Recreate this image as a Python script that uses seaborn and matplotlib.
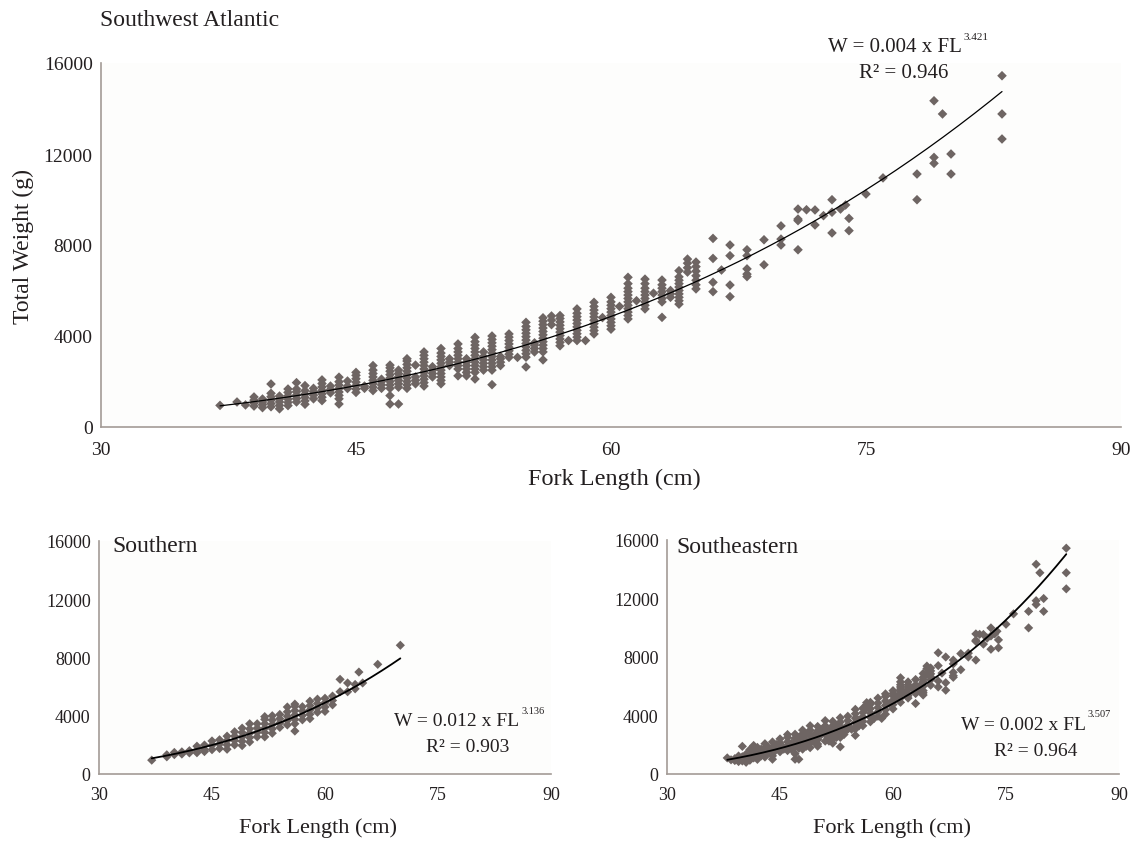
import numpy as np
import pandas as pd
import seaborn as sns
import matplotlib.pyplot as plt

# Southern region: fork length classes (cm) and weights (g)
s_fl = [37, 39, 40, 41, 42, 43, 44, 45, 46, 47, 48, 49, 50, 51, 52, 53, 54, 55,
        56, 57, 58, 59, 60, 61, 62, 63, 64, 64.5, 65, 67, 70]
s_w = [[950], [1180, 1320], [1330, 1480], [1370, 1520], [1450, 1600],
       [1460, 1610, 1910], [1540, 1690, 1990], [1670, 1970, 2270],
       [1750, 2050, 2350], [1700, 2000, 2300, 2600], [2000, 2300, 2600, 2900],
       [1950, 2250, 2550, 2850, 3150], [2200, 2500, 2800, 3100, 3450],
       [2550, 2850, 3150, 3450], [2550, 2850, 3150, 3450, 3750, 3940],
       [2800, 3100, 3400, 3700, 4000], [3200, 3500, 3800, 4090],
       [3370, 3670, 3970, 4270, 4600], [2950, 3450, 3750, 4050, 4350, 4650, 4800],
       [3720, 4020, 4320, 4620], [3800, 4100, 4400, 4700, 5000],
       [4240, 4540, 4840, 5140], [4300, 4600, 4900, 5200],
       [4750, 5050, 5350], [5650, 6500], [5650, 6250], [5850, 6150],
       [7000], [6250], [7530], [8840]]

# Southeastern region
se_fl = [38, 38.5, 39, 39.5, 40, 40.5, 41, 41.5, 42, 42.5, 43, 43.5, 44, 44.5,
         45, 45.5, 46, 46.5, 47, 47.5, 48, 48.5, 49, 49.5, 50, 50.5, 51, 51.5,
         52, 52.5, 53, 53.5, 54, 54.5, 55, 55.5, 56, 56.5, 57, 57.5, 58, 58.5,
         59, 59.5, 60, 60.5, 61, 61.5, 62, 62.5, 63, 63.5, 64, 64.5, 65, 66,
         66.5, 67, 68, 69, 70, 71, 71.5, 72, 72.5, 73, 73.5, 73.8, 74, 75, 76,
         78, 79, 79.5, 80, 83]
se_w = [[1100], [970], [920, 1050], [850, 980, 1100, 1230],
        [890, 1030, 1180, 1890], [800, 950, 1100, 1230, 1360],
        [940, 1080, 1220, 1670], [1100, 1250, 1400, 1550, 1670, 1950],
        [1000, 1150, 1300, 1820], [1240, 1400, 1550, 1700],
        [1160, 1310, 1760, 2070], [1500, 1650, 1800],
        [1010, 1240, 1390, 1840, 2190], [1690, 1800, 2020],
        [1520, 1820, 2120, 2400], [1700, 1800],
        [1600, 1900, 2200, 2500, 2700], [1700, 1850, 2000, 2100],
        [1010, 1380, 1850, 2150, 2450, 2720],
        [1010, 1750, 1900, 2050, 2200, 2350, 2500],
        [1700, 1850, 2150, 2450, 2750, 3000], [1900, 2050, 2200, 2720],
        [1800, 2100, 2400, 2700, 3000, 3300], [2200, 2350, 2500, 2650],
        [1900, 2050, 2350, 2650, 2950, 3250], [2700, 2850, 3000],
        [2250, 2700, 3000, 3300, 3650], [2250, 2400, 2550, 2700, 2850, 3000],
        [2110, 2400, 2700, 3000, 3300, 3600],
        [2500, 2650, 2800, 2950, 3100, 3300],
        [1860, 2500, 2650, 2950, 3250, 3550, 3850], [2700, 2850, 3000, 3100],
        [3060, 3350, 3650, 3950], [3060],
        [2640, 3070, 3220, 3520, 3820, 4120, 4420], [3300, 3450, 3600, 3700],
        [3300, 3600, 3900, 4200, 4500], [4500, 4700, 4880],
        [3570, 3870, 4170, 4470, 4770, 4900], [3800],
        [3950, 4250, 4550, 4850, 5190], [3800],
        [4090, 4390, 4690, 4990, 5300, 5480], [4810],
        [4450, 4750, 5050, 5350, 5500, 5700], [5300],
        [4900, 5200, 5500, 5650, 5800, 5950, 6100, 6300, 6580], [5550],
        [5190, 5350, 5500, 5800, 5950, 6100, 6300], [5880],
        [4820, 5500, 5800, 5950, 6100, 6460], [5700, 5850, 6000],
        [5400, 5550, 5700, 6000, 6300, 6450, 6600, 6870], [6810, 7200, 7380],
        [6070, 6450, 6650, 6850, 7050, 7250], [5950, 6360, 7410, 8290],
        [6900], [5730, 6240, 8000], [6610, 6720, 6950, 7530, 7790],
        [7130, 8230], [8000, 8260], [7790, 9070, 9140, 9580], [9550],
        [8880, 9540], [9290], [8530, 9440, 9990], [9580], [9760],
        [8630, 9170], [10240], [10950], [9990, 11120],
        [11590, 11850, 14340], [13760], [11120, 12000], [12660, 13760, 15440]]

# equations as printed: (main text, exponent, R²)
eq_top = ("W = 0.004 x FL", "3.421", "R² = 0.946")
eq_s = ("W = 0.012 x FL", "3.136", "R² = 0.903")
eq_se = ("W = 0.002 x FL", "3.507", "R² = 0.964")

x_ticks = [30, 45, 60, 75, 90]
y_ticks = [0, 4000, 8000, 12000, 16000]


def to_frame(fls, ws):
    rows = [(f, w) for f, col in zip(fls, ws) for w in col]
    return pd.DataFrame(rows, columns=["fl", "w"])


df_s = to_frame(s_fl, s_w)
df_se = to_frame(se_fl, se_w)
df_all = pd.concat([df_s, df_se], ignore_index=True)

sns.set_theme(style="white")
plt.rcParams["font.family"] = ["Liberation Serif", "DejaVu Serif"]
TXT = "#231f20"
PT = "#6e6563"
SP = "#a39b96"

W, H = 1139, 845
fig = plt.figure(figsize=(W / 100, H / 100), dpi=100)
fig.patch.set_facecolor("white")


def px(x, y):
    return x / W, 1 - y / H


def panel(rect, df, eq, tick_fs, ticks_on, lw, ms):
    l, t, r, b = rect
    ax = fig.add_axes([l / W, 1 - b / H, (r - l) / W, (b - t) / H])
    ax.set_facecolor("#fdfdfc")
    sns.scatterplot(data=df, x="fl", y="w", marker="D", s=ms, color=PT,
                    edgecolor="none", linewidth=0, ax=ax, legend=False, zorder=2)
    # power trendline: printed exponent, coefficient (printed too coarsely) from the points
    b_ = float(eq[1])
    a_ = np.exp(np.mean(np.log(df["w"]) - b_ * np.log(df["fl"])))
    xs = np.linspace(df["fl"].min(), df["fl"].max(), 200)
    sns.lineplot(x=xs, y=a_ * xs ** b_, ax=ax, color="black", lw=lw, zorder=3)
    ax.set_xlim(30, 90)
    ax.set_ylim(0, 16000)
    ax.set_xticks(x_ticks)
    ax.set_yticks(y_ticks)
    ax.set_xlabel("")
    ax.set_ylabel("")
    for s in ["top", "right"]:
        ax.spines[s].set_visible(False)
    for s in ["left", "bottom"]:
        ax.spines[s].set_color(SP)
        ax.spines[s].set_linewidth(1.2)
    if ticks_on:
        ax.tick_params(axis="both", length=4, width=1, color=SP, direction="out",
                       labelsize=tick_fs, labelcolor=TXT, pad=2)
        ax.tick_params(axis="x", pad=5)
    else:
        ax.tick_params(axis="both", length=0, labelsize=tick_fs, labelcolor=TXT)
        ax.tick_params(axis="x", pad=10)
        ax.tick_params(axis="y", pad=6)
    return ax


# top panel: all regions pooled
panel((101, 64, 1121, 428), df_all, eq_top, 14, False, 0.9, 24)
panel((99, 542, 551, 775), df_s, eq_s, 13, True, 1.3, 22)
panel((667, 541, 1119, 775), df_se, eq_se, 13, True, 1.3, 22)

# titles and axis labels
fig.text(*px(100, 20), "Southwest Atlantic", fontsize=17, color=TXT, va="center", ha="left")
fig.text(*px(23, 246), "Total Weight (g)", fontsize=17, color=TXT, rotation=90,
         va="center", ha="center")
fig.text(*px(614, 479), "Fork Length (cm)", fontsize=17.5, color=TXT, va="center", ha="center")
fig.text(*px(112, 547), "Southern", fontsize=17, color=TXT, va="center", ha="left")
fig.text(*px(676, 548), "Southeastern", fontsize=17, color=TXT, va="center", ha="left")
fig.text(*px(318, 828), "Fork Length (cm)", fontsize=16, color=TXT, va="center", ha="center")
fig.text(*px(892, 828), "Fork Length (cm)", fontsize=16, color=TXT, va="center", ha="center")


def equation(eq, x_end, y1, y2, x_r2, fs, sfs):
    main, sup, r2 = eq
    fig.text(*px(x_end, y1), main, fontsize=fs, color=TXT, ha="right", va="center")
    fig.text(*px(x_end + 2, y1 - 10), sup, fontsize=sfs, color=TXT, ha="left", va="center")
    fig.text(*px(x_r2, y2), r2, fontsize=fs, color=TXT, ha="center", va="center")


equation(eq_top, 962, 48, 74, 904, 15, 8)
equation(eq_s, 519, 722, 748, 468, 14, 7.5)
equation(eq_se, 1086, 725, 752, 1036, 14, 7.5)

fig.savefig("out.png", dpi=100, facecolor="white")
